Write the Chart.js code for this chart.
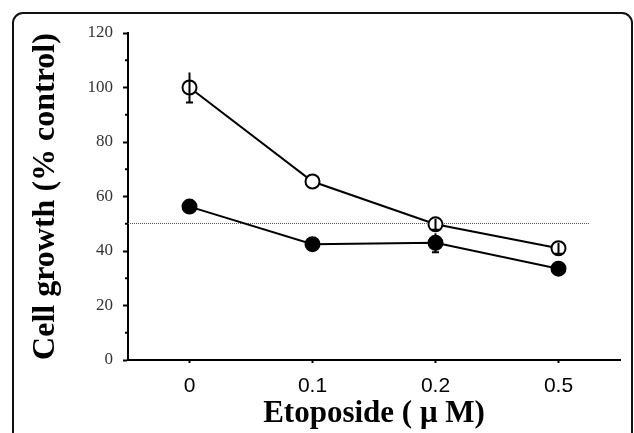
<!DOCTYPE html>
<html>
<head>
<meta charset="utf-8">
<script src="https://cdn.jsdelivr.net/npm/chart.js@4.4.1/dist/chart.umd.min.js"></script>
<style>
html, body { margin: 0; padding: 0; background: #fff; }
#wrap { position: relative; width: 634px; height: 433px; overflow: hidden; }
#frame { position: absolute; left: 12px; top: 12px; width: 621px; height: 470px; border: 2px solid #111; border-radius: 11px; box-sizing: border-box; pointer-events: none; }
canvas { position: absolute; left: 0; top: 0; }
</style>
</head>
<body>
<div id="wrap">
  <div id="frame"></div>
  <canvas id="growthChart" width="634" height="433"></canvas>
</div>
<script>
// Etoposide dose (uM) and cell growth (% of control)
const doses = ['0', '0.1', '0.2', '0.5'];
const openValues = [100, 65.5, 49.8, 41];
const openErrors = [5.5, 0, 2, 2];
const filledValues = [56.3, 42.5, 43, 33.5];
const filledErrors = [0, 0, 3.5, 0];
const threshold = 50.3;
const yMinorTicks = [10, 30, 50, 70, 90, 110];

// dotted 50% line, error bars and minor y ticks
const extras = {
    id: 'extras',
    beforeDatasetsDraw(chart) {
        const { ctx, chartArea, scales: { x, y } } = chart;
        const last = x.getPixelForValue(doses.length - 1);
        const step = last - x.getPixelForValue(doses.length - 2);
        const yy = Math.round(y.getPixelForValue(threshold)) + 0.5;
        ctx.save();
        ctx.strokeStyle = '#555';
        ctx.lineWidth = 1;
        ctx.setLineDash([1, 1]);
        ctx.beginPath();
        ctx.moveTo(chartArea.left, yy);
        ctx.lineTo(last + step / 4, yy);
        ctx.stroke();
        ctx.restore();
    },
    afterDatasetsDraw(chart) {
        const { ctx, scales: { y } } = chart;
        ctx.save();
        ctx.strokeStyle = '#000';
        ctx.lineWidth = 2;
        chart.data.datasets.forEach((ds, i) => {
            const meta = chart.getDatasetMeta(i);
            ds.errors.forEach((err, j) => {
                if (!err) return;
                const px = meta.data[j].x;
                const top = y.getPixelForValue(ds.data[j] + err);
                const bot = y.getPixelForValue(ds.data[j] - err);
                ctx.beginPath();
                ctx.moveTo(px, top);
                ctx.lineTo(px, bot);
                ctx.moveTo(px - 3.5, bot);
                ctx.lineTo(px + 3.5, bot);
                ctx.stroke();
            });
        });
        ctx.restore();
    },
    afterDraw(chart) {
        const { ctx, chartArea, scales: { y } } = chart;
        ctx.save();
        ctx.strokeStyle = '#000';
        ctx.lineWidth = 2;
        yMinorTicks.forEach(v => {
            const py = y.getPixelForValue(v);
            ctx.beginPath();
            ctx.moveTo(chartArea.left - 3, py);
            ctx.lineTo(chartArea.left, py);
            ctx.stroke();
        });
        ctx.restore();
    }
};

const ctx = document.getElementById('growthChart');
new Chart(ctx, {
    type: 'line',
    data: {
        labels: doses,
        datasets: [
            {
                data: openValues,
                errors: openErrors,
                borderColor: '#000',
                borderWidth: 2,
                pointRadius: 7,
                pointBackgroundColor: '#fff',
                pointBorderColor: '#000',
                pointBorderWidth: 2
            },
            {
                data: filledValues,
                errors: filledErrors,
                borderColor: '#000',
                borderWidth: 2,
                pointRadius: 7,
                pointBackgroundColor: '#000',
                pointBorderColor: '#000',
                pointBorderWidth: 2
            }
        ]
    },
    options: {
        responsive: false,
        animation: false,
        layout: {
            padding: { left: 14, right: 14, top: 33, bottom: 0 }
        },
        plugins: {
            legend: { display: false },
            tooltip: { enabled: false }
        },
        scales: {
            x: {
                type: 'category',
                offset: true,
                grid: {
                    drawOnChartArea: false,
                    offset: false,
                    tickLength: 3,
                    tickWidth: 2,
                    tickColor: '#000'
                },
                border: { color: '#000', width: 2 },
                ticks: {
                    font: { family: 'Liberation Sans', size: 21 },
                    color: '#000',
                    padding: 11
                },
                title: {
                    display: true,
                    text: 'Etoposide ( μ M)',
                    font: { family: 'Liberation Serif', size: 31, weight: 'bold' },
                    color: '#000',
                    padding: { top: 0, bottom: 0 }
                },
                afterFit: s => { s.height = 73; }
            },
            y: {
                min: 0,
                max: 120,
                ticks: {
                    stepSize: 20,
                    font: { family: 'Liberation Serif', size: 17 },
                    color: '#333',
                    padding: 10
                },
                grid: {
                    drawOnChartArea: false,
                    tickLength: 5,
                    tickWidth: 2,
                    tickColor: '#000'
                },
                border: { color: '#000', width: 2 },
                title: {
                    display: true,
                    text: 'Cell growth (% control)',
                    font: { family: 'Liberation Serif', size: 32, weight: 'bold' },
                    color: '#000',
                    padding: { top: 13, bottom: 0 }
                },
                afterFit: s => { s.width = 114; }
            }
        }
    },
    plugins: [extras]
});
</script>
</body>
</html>
